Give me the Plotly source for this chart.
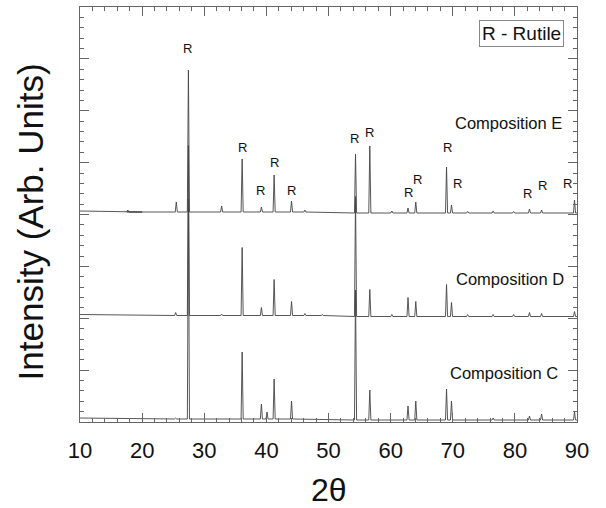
import plotly.graph_objects as go

# ---- data (2θ in degrees, intensity in arbitrary units) ----
peaks_E = [17.7, 25.5, 27.45, 32.8, 36.1, 39.2, 41.25, 44.05, 46.2, 54.35, 56.65, 60.2,
           62.8, 64.05, 69.0, 69.8, 72.4, 76.5, 79.8, 82.35, 84.3, 89.6]
heights_E = [2, 10, 142, 6, 53, 5, 37, 11, 2, 59, 67, 2,
             5, 11, 46, 8, 1.5, 2, 1.5, 4, 3, 13]
base_E = [211, 210, 209]          # baseline at 10°, 20°, 90°

peaks_D = [25.4, 27.45, 32.8, 36.1, 39.2, 41.25, 44.05, 46.2, 49.0, 54.35, 56.65, 60.2,
           62.8, 64.05, 69.0, 69.8, 72.4, 76.5, 79.8, 82.35, 84.3, 89.6]
heights_D = [3, 170, 1.5, 68, 8, 36, 14, 2, 1, 120, 27, 2,
             19, 15, 32, 14, 2, 2, 2, 4, 3, 5]
base_D = [107.5, 106.5, 105.5]

peaks_C = [25.4, 27.45, 36.1, 39.2, 40.1, 41.25, 44.05, 54.35, 56.65, 62.8, 64.05,
           69.0, 69.8, 76.5, 82.35, 84.3, 89.6]
heights_C = [1, 220, 67, 15, 7, 40, 18, 130, 30, 14, 19,
             31, 19, 2, 4, 6, 8]
base_C = [4, 3, 2]

label_x = [27.3, 36.2, 39.1, 41.3, 44.1, 54.2, 56.6, 62.95, 64.4, 69.15, 70.8, 82.1, 84.5, 88.5]
label_y = [374, 275, 232, 260, 232, 284, 290, 230, 243, 275, 239, 229, 237, 239]

comp_names = ["Composition E", "Composition D", "Composition C"]
comp_x = [78.9, 79.2, 78.3]
comp_y = [299, 143, 49]

PEAK_HALF_WIDTH = 0.17


def trace_points(peaks, heights, base):
    xs = [10, 20]
    ys = [base[0], base[1]]
    for p, h in sorted(zip(peaks, heights)):
        b = base[1] if p < 50 else base[2]
        xs += [p - PEAK_HALF_WIDTH, p, p + PEAK_HALF_WIDTH]
        ys += [b, b + h, b]
    xs.append(90)
    ys.append(base[2])
    return xs, ys


fig = go.Figure()
for peaks, heights, base in [(peaks_C, heights_C, base_C),
                             (peaks_D, heights_D, base_D),
                             (peaks_E, heights_E, base_E)]:
    xs, ys = trace_points(peaks, heights, base)
    fig.add_trace(go.Scatter(x=xs, y=ys, mode="lines",
                             line=dict(color="#444", width=0.9),
                             showlegend=False, hoverinfo="skip"))

FONT = "Liberation Sans, Arial, Helvetica, sans-serif"
annotations = []
for x, y in zip(label_x, label_y):
    annotations.append(dict(x=x, y=y, xref="x", yref="y", text="R", showarrow=False,
                            font=dict(family=FONT, size=13, color="#111")))
for name, x, y in zip(comp_names, comp_x, comp_y):
    annotations.append(dict(x=x, y=y, xref="x", yref="y", text=name, showarrow=False,
                            font=dict(family=FONT, size=16.5, color="#111")))
annotations.append(dict(x=81.1, y=388.5, xref="x", yref="y", text="R - Rutile",
                        showarrow=False, bordercolor="#888", borderwidth=1, borderpad=2,
                        bgcolor="white", font=dict(family=FONT, size=19, color="#111")))
annotations.append(dict(x=-0.1006, y=0.481, xref="paper", yref="paper",
                        xanchor="center", yanchor="middle",
                        text="Intensity (Arb. Units)", textangle=-90, showarrow=False,
                        font=dict(family=FONT, size=35, color="#111")))
annotations.append(dict(x=0.5, y=-0.165, xref="paper", yref="paper", text="2θ",
                        showarrow=False, xanchor="center", yanchor="middle",
                        font=dict(family=FONT, size=32, color="#111")))

axis_common = dict(showline=True, linecolor="#666", linewidth=1,
                   ticks="inside", ticklen=9, tickcolor="#666", tickwidth=1,
                   showgrid=False, zeroline=False)

xticks = dict(range=[10, 90], tick0=10, dtick=10,
              minor=dict(dtick=2, ticks="inside", ticklen=4, tickcolor="#666"))
yticks = dict(range=[0, 415], tick0=0, dtick=51.875,
              minor=dict(dtick=10.375, ticks="inside", ticklen=4, tickcolor="#666"))

fig.update_layout(
    width=606, height=508,
    margin=dict(l=80, r=29, t=7, b=86),
    paper_bgcolor="white", plot_bgcolor="white",
    xaxis=dict(tickfont=dict(family=FONT, size=22, color="#111"), ticklabelstandoff=9,
               **xticks, **axis_common),
    yaxis=dict(showticklabels=False, **yticks, **axis_common),
    xaxis2=dict(overlaying="x", side="top", matches="x", showticklabels=False,
                **xticks, **axis_common),
    yaxis2=dict(overlaying="y", side="right", matches="y", showticklabels=False,
                **yticks, **axis_common),
    annotations=annotations,
)
# invisible trace to activate the mirrored axes
fig.add_trace(go.Scatter(x=[10, 90], y=[0, 415], xaxis="x2", yaxis="y2", mode="none",
                         showlegend=False, hoverinfo="skip"))

fig.write_html("out.html")
